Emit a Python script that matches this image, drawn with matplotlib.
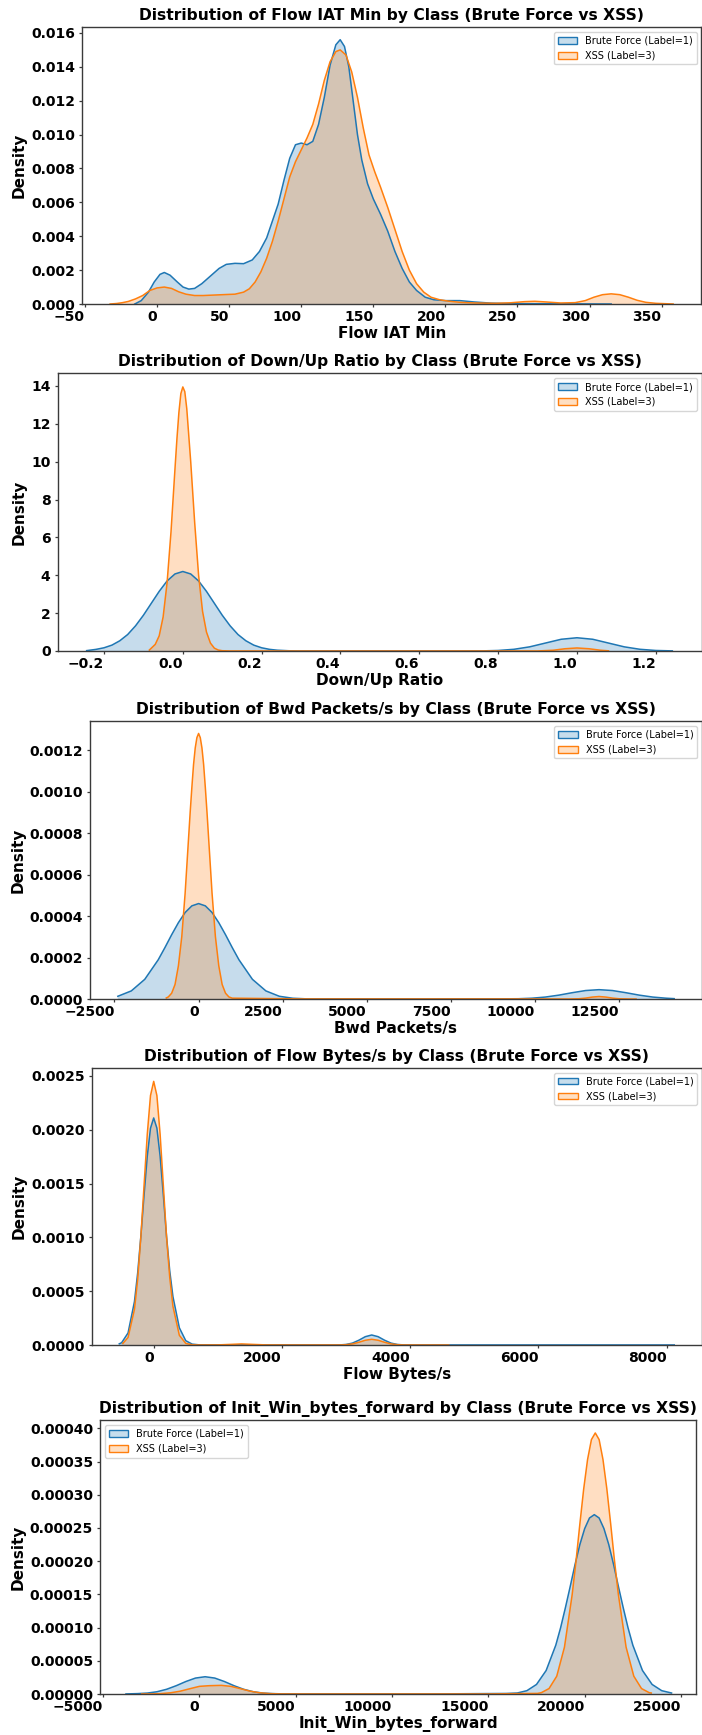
import matplotlib
matplotlib.use("Agg")
import matplotlib.pyplot as plt
from matplotlib.patches import Patch

W, H = 702, 1735
BLUE = "#1f77b4"
ORANGE = "#ff7f0e"
ALPHA = 0.25

# ---------------- data ----------------
# 1) Flow IAT Min
iat_bf_x = [-15.5, -11, -6, -2, 2, 5, 9, 14, 18, 22, 26, 31, 37, 43, 48, 54, 60, 66, 71, 76, 80, 84, 88, 92,
            96, 100, 104, 108, 112, 116, 120, 124, 127, 130, 133, 136, 139, 142, 146, 150, 155, 160, 165, 170,
            175, 180, 186, 192, 200, 210, 220, 232, 250, 280, 315]
iat_bf_y = [0, 0.0002, 0.0007, 0.0013, 0.00175, 0.00186, 0.0017, 0.0013, 0.001, 0.00088, 0.00092, 0.0012,
            0.00165, 0.0021, 0.00234, 0.0024, 0.00238, 0.0026, 0.0031, 0.0039, 0.0049, 0.0059, 0.0073, 0.0086,
            0.0094, 0.0095, 0.0094, 0.0096, 0.0106, 0.0122, 0.0141, 0.0153, 0.0156, 0.0152, 0.0140, 0.0120,
            0.0100, 0.0085, 0.0071, 0.0062, 0.0053, 0.0043, 0.0031, 0.0021, 0.0013, 0.0008, 0.0004, 0.00025,
            0.0002, 0.0002, 0.00012, 0.00005, 0.00002, 0.00001, 0]
iat_xss_x = [-32.6, -28, -24, -20, -15, -10, -5, 0, 5, 10, 15, 20, 26, 32, 40, 48, 54, 60, 64, 68, 72, 76, 80,
             84, 88, 92, 96, 100, 104, 108, 112, 116, 120, 124, 127, 131, 135, 139, 143, 147, 151, 155, 160,
             165, 170, 175, 180, 185, 190, 196, 202, 210, 220, 235, 245, 255, 262, 270, 280, 290, 297, 303,
             309, 315, 321, 327, 333, 339, 346, 358]
iat_xss_y = [0, 0.00003, 0.00008, 0.00015, 0.0003, 0.0005, 0.0008, 0.00095, 0.001, 0.00092, 0.00072, 0.00058,
             0.0005, 0.0005, 0.00053, 0.00056, 0.00058, 0.0007, 0.0009, 0.0013, 0.0019, 0.0027, 0.0037, 0.0049,
             0.0062, 0.0075, 0.0084, 0.0091, 0.0098, 0.0106, 0.0118, 0.0132, 0.0143, 0.0149, 0.0150, 0.0147,
             0.0137, 0.0122, 0.0104, 0.0088, 0.0078, 0.0069, 0.0057, 0.0044, 0.0031, 0.0020, 0.0012, 0.0007,
             0.0004, 0.00025, 0.00017, 0.0001, 0.00006, 0.00004, 0.00007, 0.00014, 0.00016, 0.00012, 0.00006,
             0.00008, 0.0002, 0.0004, 0.00055, 0.0006, 0.00055, 0.0004, 0.00022, 0.0001, 0.00004, 0]

# 2) Down/Up Ratio
du_bf_x = [-0.244, -0.22, -0.2, -0.18, -0.16, -0.14, -0.12, -0.1, -0.08, -0.06, -0.04, -0.02, 0, 0.02, 0.04,
           0.06, 0.08, 0.1, 0.12, 0.14, 0.16, 0.18, 0.2, 0.22, 0.24, 0.27, 0.3, 0.4, 0.5, 0.6, 0.7, 0.76, 0.8,
           0.84, 0.88, 0.92, 0.96, 1.0, 1.04, 1.08, 1.12, 1.16, 1.2, 1.242]
du_bf_y = [0.02, 0.087, 0.17, 0.31, 0.54, 0.87, 1.33, 1.89, 2.52, 3.15, 3.70, 4.07, 4.2, 4.07, 3.70, 3.15, 2.52,
           1.89, 1.33, 0.87, 0.54, 0.31, 0.17, 0.087, 0.042, 0.012, 0.004, 0.002, 0.002, 0.002, 0.002, 0.007,
           0.028, 0.09, 0.22, 0.42, 0.62, 0.70, 0.62, 0.42, 0.22, 0.09, 0.028, 0.0065]
du_xss_x = [-0.085, -0.07, -0.06, -0.05, -0.04, -0.03, -0.02, -0.015, -0.01, -0.005, 0.0, 0.005, 0.01, 0.015,
            0.02, 0.03, 0.04, 0.05, 0.06, 0.07, 0.08, 0.09, 0.1, 0.12, 0.2, 0.5, 0.9, 0.94, 0.97, 1.0, 1.03,
            1.06, 1.08]
du_xss_y = [0.05, 0.35, 0.8, 1.8, 3.6, 6.3, 9.6, 11.2, 12.6, 13.6, 13.95, 13.7, 12.8, 11.4, 10.0, 6.8, 4.0,
            2.1, 1.0, 0.42, 0.15, 0.05, 0.015, 0.003, 0.001, 0.001, 0.003, 0.04, 0.12, 0.16, 0.12, 0.04, 0.01]

# 3) Bwd Packets/s
bp_bf_x = [-2400, -2000, -1600, -1200, -1000, -800, -600, -400, -200, 0, 200, 400, 600, 800, 1000, 1200,
           1600, 2000, 2400, 2800, 3200, 5000, 7000, 9000, 9500, 9900, 10300, 10700, 11100, 11500, 11900,
           12300, 12700, 13100, 13500, 13900, 14133]
bp_bf_y = [0.0000131, 0.000039, 0.0000948, 0.000189, 0.000248, 0.00031, 0.000368, 0.000417, 0.000449,
           0.00046, 0.000449, 0.000417, 0.000368, 0.00031, 0.000248, 0.000189, 0.0000948, 0.000039, 0.0000131,
           0.0000036, 0.0000008, 0.0000005, 0.0000005, 0.0000008, 0.0000013, 0.0000038, 0.0000093, 0.0000185,
           0.0000303, 0.0000408, 0.000045, 0.0000408, 0.0000303, 0.0000185, 0.0000093, 0.0000038, 0.0000017]
bp_xss_x = [-960, -900, -800, -700, -600, -500, -400, -300, -250, -200, -150, -100, -50, 0, 50, 100, 150, 200,
            250, 300, 400, 500, 600, 700, 800, 900, 1000, 3000, 6000, 9000, 11000, 11300, 11500, 11700,
            11900, 12100, 12300, 12500, 12800, 13000]
bp_xss_y = [0.000005, 0.00001, 0.000028, 0.00007, 0.00016, 0.0003, 0.00051, 0.00077, 0.0009, 0.00102,
            0.00113, 0.00121, 0.00126, 0.00128, 0.00126, 0.00121, 0.00113, 0.00102, 0.0009, 0.00077, 0.00051,
            0.0003, 0.00016, 0.00007, 0.000028, 0.00001, 0.000004, 0.0000005, 0.0000005, 0.0000005,
            0.0000001, 0.0000012, 0.0000043, 0.0000093, 0.000012, 0.0000093, 0.0000043, 0.0000012,
            0.0000001, 0]

# 4) Flow Bytes/s
fb_bf_x = [-537, -500, -400, -300, -250, -200, -150, -100, -50, 0, 50, 100, 150, 200, 250, 300, 400, 500,
           600, 700, 1000, 2000, 2700, 2900, 3000, 3100, 3200, 3300, 3400, 3500, 3600, 3700, 3800, 3900,
           4100, 5000, 6500, 8118]
fb_bf_y = [0.000011, 0.0000214, 0.000112, 0.000404, 0.000669, 0.001012, 0.001396, 0.001756, 0.002015,
           0.00211, 0.002015, 0.001756, 0.001396, 0.001012, 0.00069, 0.00045, 0.00016, 0.00004, 0.000008,
           0.000002, 0.000001, 0.000001, 0.0000005, 0.0000009, 0.0000049, 0.0000178, 0.0000446, 0.0000774,
           0.000093, 0.0000774, 0.0000446, 0.0000178, 0.0000049, 0.0000009, 0.0000002, 0.0000005,
           0.0000005, 0.0000003]
fb_xss_x = [-482, -400, -300, -250, -200, -150, -100, -50, 0, 50, 100, 150, 200, 250, 300, 400, 500, 600,
            700, 1000, 1200, 1370, 1550, 1750, 2200, 2900, 3000, 3100, 3200, 3300, 3400, 3500, 3600, 3700,
            3800, 3900, 4200, 4600]
fb_xss_y = [0.0000141, 0.00007, 0.000332, 0.00061, 0.001007, 0.001486, 0.00196, 0.002318, 0.00245, 0.002318,
            0.00196, 0.001486, 0.001007, 0.00063, 0.00036, 0.00009, 0.000015, 0.000002, 0.0000005, 0.000001,
            0.0000055, 0.00001, 0.0000055, 0.000001, 0.0000003, 0.0000005, 0.0000028, 0.0000101, 0.0000254,
            0.0000441, 0.000053, 0.0000441, 0.0000254, 0.0000101, 0.0000028, 0.0000005, 0.0000002,
            0.0000001]

# 5) Init_Win_bytes_forward
iw_bf_x = [-3808, -3200, -2700, -2200, -1700, -1200, -700, -200, 300, 800, 1300, 1800, 2300, 2800, 3300, 3800,
           4300, 4953, 8000, 12000, 15935, 16500, 17000, 17500, 18000, 18500, 18750, 19000, 19250, 19500,
           19750, 20000, 20250, 20500, 20750, 21000, 21250, 21500, 21750, 22000, 22250, 22500, 23000, 23500,
           24000, 24509]
iw_bf_y = [0.0000001, 0.0000006, 0.0000014, 0.0000034, 0.0000071, 0.0000125, 0.0000188, 0.000024, 0.000026,
           0.000024, 0.0000188, 0.0000125, 0.0000071, 0.0000034, 0.0000014, 0.0000006, 0.0000002, 0.0000001,
           0.0000001, 0.0000001, 0.0000008, 0.0000015, 0.000005, 0.0000144, 0.0000354, 0.0000735, 0.0000997,
           0.00013, 0.000162, 0.000195, 0.000225, 0.000249, 0.000265, 0.00027, 0.000265, 0.000249, 0.000225,
           0.000195, 0.000162, 0.00013, 0.0000997, 0.0000735, 0.0000354, 0.0000144, 0.000005, 0.0000015]
iw_xss_x = [-2990, -2500, -2000, -1500, -1000, -500, 0, 500, 1145, 1645, 2145, 2645, 3145, 3645, 4145, 5420,
            10000, 15000, 17550, 17750, 18150, 18550, 18950, 19350, 19550, 19750, 19950, 20150, 20350, 20550,
            20750, 20950, 21150, 21350, 21550, 21750, 22150, 22550, 22950, 23350, 23458]
iw_xss_y = [0.0000001, 0.0000001, 0.0000006, 0.0000018, 0.0000042, 0.0000079, 0.0000115, 0.0000125, 0.000013,
            0.0000115, 0.0000079, 0.0000042, 0.0000018, 0.0000006, 0.0000002, 0.0000001, 0.0000001, 0.0000001,
            0.0000009, 0.000002, 0.0000082, 0.0000268, 0.0000705, 0.0001495, 0.0002, 0.000256, 0.000309,
            0.000353, 0.000383, 0.000393, 0.000383, 0.000353, 0.000309, 0.000256, 0.0002, 0.0001495,
            0.0000705, 0.0000268, 0.0000082, 0.000002, 0.0000015]

features = ["Flow IAT Min", "Down/Up Ratio", "Bwd Packets/s", "Flow Bytes/s", "Init_Win_bytes_forward"]
curves = [
    (iat_bf_x, iat_bf_y, iat_xss_x, iat_xss_y),
    (du_bf_x, du_bf_y, du_xss_x, du_xss_y),
    (bp_bf_x, bp_bf_y, bp_xss_x, bp_xss_y),
    (fb_bf_x, fb_bf_y, fb_xss_x, fb_xss_y),
    (iw_bf_x, iw_bf_y, iw_xss_x, iw_xss_y),
]
xticks = [
    [-50, 0, 50, 100, 150, 200, 250, 300, 350],
    [-0.2, 0.0, 0.2, 0.4, 0.6, 0.8, 1.0, 1.2],
    [-2500, 0, 2500, 5000, 7500, 10000, 12500],
    [0, 2000, 4000, 6000, 8000],
    [-5000, 0, 5000, 10000, 15000, 20000, 25000],
]
yticks = [
    [0.000, 0.002, 0.004, 0.006, 0.008, 0.010, 0.012, 0.014, 0.016],
    [0, 2, 4, 6, 8, 10, 12, 14],
    [0.0000, 0.0002, 0.0004, 0.0006, 0.0008, 0.0010, 0.0012],
    [0.0000, 0.0005, 0.0010, 0.0015, 0.0020, 0.0025],
    [0.00000, 0.00005, 0.00010, 0.00015, 0.00020, 0.00025, 0.00030, 0.00035, 0.00040],
]
ytick_fmt = ["{:.3f}", "{:.0f}", "{:.4f}", "{:.4f}", "{:.5f}"]
xtick_fmt = ["{:.0f}", "{:.1f}", "{:.0f}", "{:.0f}", "{:.0f}"]

# ---------------- layout (pixels) ----------------
boxes = [  # left, right, top, bottom
    (82, 701.4, 27, 304),
    (57.5, 701.5, 373.3, 651),
    (90, 702, 721, 999),
    (91.5, 702, 1067.7, 1345),
    (100, 696, 1420, 1694),
]
xlims = [(-52.1, 377.6), (-0.318, 1.316), (-3227, 14960), (-970, 8551), (-5156, 25778)]
ylims = [(0, 0.01635), (0, 14.67), (0, 0.00134), (0, 0.002577), (0, 0.0004125)]
legend_loc = ["upper right"] * 4 + ["upper left"]

fig = plt.figure(figsize=(W / 100, H / 100), dpi=100)
SPINE = "#3a3a3a"

for i in range(5):
    l, r, t, b = boxes[i]
    ax = fig.add_axes([l / W, 1 - b / H, (r - l) / W, (b - t) / H])
    bx, by, ox, oy = curves[i]
    ax.fill_between(bx, by, 0, facecolor=BLUE, alpha=ALPHA, edgecolor="none")
    ax.plot(bx, by, color=BLUE, lw=1.1)
    ax.fill_between(ox, oy, 0, facecolor=ORANGE, alpha=ALPHA, edgecolor="none")
    ax.plot(ox, oy, color=ORANGE, lw=1.1)
    ax.set_xlim(*xlims[i])
    ax.set_ylim(*ylims[i])
    ax.set_xticks(xticks[i])
    ax.set_xticklabels([xtick_fmt[i].format(v).replace("-", "\u2212") for v in xticks[i]],
                       fontsize=10, fontweight="bold", ha="right")
    ax.set_yticks(yticks[i])
    ax.set_yticklabels([ytick_fmt[i].format(v) for v in yticks[i]], fontsize=10, fontweight="bold")
    for s in ax.spines.values():
        s.set_color(SPINE)
        s.set_linewidth(1.0)
    ax.tick_params(axis="x", length=2.5, width=0.9, pad=1.5, color=SPINE, labelcolor="black")
    ax.tick_params(axis="y", length=2.5, width=0.9, pad=2.5, color=SPINE, labelcolor="black")
    ax.set_title(f"Distribution of {features[i]} by Class (Brute Force vs XSS)",
                 fontsize=11.2, fontweight="bold", pad=5)
    ax.set_xlabel(features[i], fontsize=11, fontweight="bold", labelpad=2)
    ax.set_ylabel("Density", fontsize=11, fontweight="bold", labelpad=3)
    handles = [Patch(facecolor=(0.12, 0.47, 0.71, ALPHA), edgecolor=BLUE, lw=1.0),
               Patch(facecolor=(1.0, 0.5, 0.05, ALPHA), edgecolor=ORANGE, lw=1.0)]
    ax.legend(handles, ["Brute Force (Label=1)", "XSS (Label=3)"], loc=legend_loc[i], fontsize=7)

fig.savefig("out.png", dpi=100)
